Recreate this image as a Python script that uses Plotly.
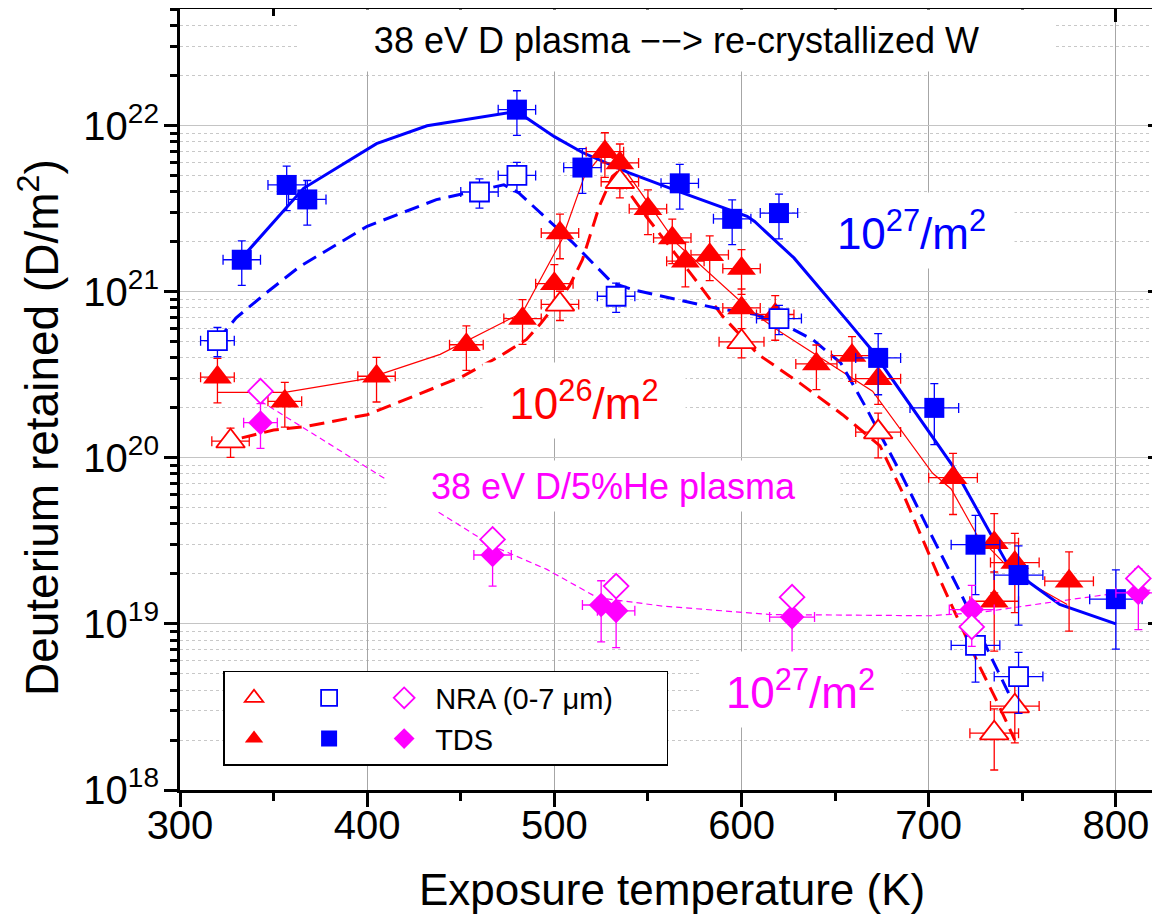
import plotly.graph_objects as go

# ---------------- data ----------------
# 38 eV D plasma, fluence 1e26 D/m^2, TDS (red filled triangles)
tds26_T = [320, 356, 405, 453, 483, 500, 503, 527, 535, 550, 563, 570, 583, 600, 600, 618,
           640, 659, 673, 713, 735, 746, 735, 775]
tds26_D = [3.06e20, 2.19e20, 3.1e20, 4.8e20, 6.9e20, 1.12e21, 2.26e21, 6.98e21, 5.97e21,
           3.16e21, 2.11e21, 1.53e21, 1.67e21, 1.38e21, 8.0e20, 7.3e20, 3.68e20, 4.13e20,
           3.0e20, 7.6e19, 3.08e19, 2.34e19, 1.37e19, 1.81e19]
tds26_pct = [30] * 19 + [40, 50, 50, 50, 50]
tds26_xerr = [9, 9, 10, 9, 10, 10, 10, 10, 10, 10, 10, 10, 10, 10, 10, 10, 11, 11, 12, 13,
              13, 13, 13, 13]

# fluence 1e26, NRA (red open triangles)
nra26_T = [327, 503, 535, 600, 673, 746, 735]
nra26_D = [1.26e20, 8.4e20, 4.6e21, 5.0e20, 1.43e20, 3.2e18, 2.2e18]
nra26_pct = [20, 20, 20, 20, 30, 40, 40]
nra26_xerr = [10, 10, 10, 12, 12, 13, 13]

# fluence 1e27, TDS (blue filled squares)
tds27_T = [333, 357, 368, 480, 515, 567, 595, 620, 673, 703, 725, 748, 800]
tds27_D = [1.56e21, 4.4e21, 3.6e21, 1.25e22, 5.6e21, 4.5e21, 2.75e21, 2.98e21, 4.0e20,
           2.0e20, 3.0e19, 1.97e19, 1.41e19]
tds27_pct = [30, 30, 30, 30, 30, 30, 30, 30, 40, 40, 50, 50, 50]
tds27_xerr = [10, 10, 10, 10, 10, 10, 10, 10, 12, 13, 13, 13, 14]

# fluence 1e27, NRA (blue open squares)
nra27_T = [320, 460, 480, 533, 620, 725, 748]
nra27_D = [5.08e20, 3.99e21, 5.02e21, 9.4e20, 6.9e20, 7.43e18, 4.82e18]
nra27_pct = [20, 20, 20, 20, 20, 40, 40]
nra27_xerr = [9, 10, 10, 10, 12, 13, 13]

# 38 eV D/5%He plasma, 1e27, TDS (magenta filled diamonds)
tdsHe_T = [343, 467, 525, 533, 627, 723, 812]
tdsHe_D = [1.63e20, 2.6e19, 1.30e19, 1.20e19, 1.10e19, 1.22e19, 1.54e19]
tdsHe_pct = [30, 35, 40, 40, 40, 40, 40]
tdsHe_xerr = [9, 10, 10, 10, 12, 12, 12]

# D/5%He, NRA (magenta open diamonds)
nraHe_T = [343, 467, 533, 627, 723, 812]
nraHe_D = [2.52e20, 3.23e19, 1.69e19, 1.45e19, 9.6e18, 1.88e19]

# guide lines
blue_solid_T = [333, 366, 405, 432, 480, 500, 515, 540, 567, 603, 607, 628, 656, 670, 713,
                742, 754, 770, 800]
blue_solid_D = [1.6e21, 4.2e21, 7.8e21, 1.0e22, 1.22e22, 8.6e21, 6.9e21, 5.2e21, 4.0e21,
                2.85e21, 2.65e21, 1.6e21, 6.8e20, 4.4e20, 8.9e19, 2.3e19, 1.77e19, 1.31e19,
                1.0e19]
blue_dash_T = [320, 330, 346, 364, 400, 437, 473, 481, 510, 531, 542, 588, 608, 626, 638,
               653, 667, 685, 699, 717, 734, 743]
blue_dash_D = [5.1e20, 6.97e20, 9.84e20, 1.42e21, 2.48e21, 3.59e21, 4.41e21, 3.94e21,
               1.97e21, 1.13e21, 1.03e21, 7.9e20, 7.3e20, 6.07e20, 5.16e20, 3.73e20, 1.96e20,
               8.1e19, 3.88e19, 1.54e19, 6.1e18, 3.77e18]
red_solid_T = [320, 356, 400, 439, 483, 504, 516, 526, 535, 565, 606, 620, 670, 702, 712,
               726, 747, 774]
red_solid_D = [2.48e20, 2.48e20, 3.0e20, 4.2e20, 7.5e20, 2.06e21, 4.95e21, 6.85e21, 6.0e21,
               1.97e21, 7.5e20, 5.8e20, 2.52e20, 8.1e19, 6.5e19, 3.4e19, 1.94e19, 1.31e19]
red_dash_T = [333, 350, 368, 400, 425, 451, 471, 485, 493, 508, 515, 524, 531, 535, 540, 549,
              574, 590, 609, 631, 654, 674, 686, 697, 706, 727, 736, 746]
red_dash_D = [1.32e20, 1.47e20, 1.55e20, 1.82e20, 2.35e20, 3.1e20, 4.1e20, 5.15e20, 6.5e20,
              1.08e21, 1.56e21, 3.27e21, 4.95e21, 5.4e21, 3.94e21, 2.85e21, 1.24e21, 7.1e20,
              4.19e20, 2.83e20, 1.82e20, 1.18e20, 6.2e19, 3.2e19, 1.85e19, 5.6e18, 3.5e18,
              2.0e18]
mag_line_T = [343, 407, 436, 467, 496, 523, 558, 615, 700, 727, 763, 802, 825]
mag_line_D = [2.2e20, 7.8e19, 4.9e19, 2.95e19, 2.13e19, 1.44e19, 1.28e19, 1.14e19, 1.12e19,
              1.17e19, 1.34e19, 1.54e19, 1.62e19]

x_ticks = [300, 400, 500, 600, 700, 800]
x_minor = [350, 450, 550, 650, 750]
y_ticks = [1e18, 1e19, 1e20, 1e21, 1e22]
y_ticktext = ["10<sup>18</sup>", "10<sup>19</sup>", "10<sup>20</sup>", "10<sup>21</sup>",
              "10<sup>22</sup>"]

RED, BLUE, MAG = "#ff0000", "#0000ff", "#ff00ff"
FONT = "Liberation Sans, Arial, Helvetica, sans-serif"

fig = go.Figure()


def line(T, D, color, width, dash):
    fig.add_trace(go.Scatter(x=T, y=D, mode="lines", showlegend=False, hoverinfo="skip",
                             line=dict(color=color, width=width, dash=dash)))


line(red_solid_T, red_solid_D, RED, 1.2, "solid")
line(red_dash_T, red_dash_D, RED, 3, "15px,8px")
line(blue_solid_T, blue_solid_D, BLUE, 3, "solid")
line(blue_dash_T, blue_dash_D, BLUE, 3, "15px,8px")
line(mag_line_T, mag_line_D, MAG, 1.2, "6px,4px")


def pts(T, D, pct, xerr, color, symbol, size, filled, group, rank, name):
    kw = {}
    if pct is not None:
        kw["error_y"] = dict(type="data", array=[d * p / 100 for d, p in zip(D, pct)],
                             color=color, thickness=1.3, width=4)
        kw["error_x"] = dict(type="data", array=xerr, color=color, thickness=1.3, width=5)
    fig.add_trace(go.Scatter(
        x=T, y=D, mode="markers", name=name, legendgroup=group, legendrank=rank,
        marker=dict(symbol=symbol, size=size,
                    color=color if filled else "white",
                    line=dict(color=color, width=0 if filled else 1.8)),
        **kw))


NB = "\u00a0"
pts(tds26_T, tds26_D, tds26_pct, tds26_xerr, RED, "triangle-up", 25, True, "tri", 2, NB)
pts(nra26_T, nra26_D, nra26_pct, nra26_xerr, RED, "triangle-up", 25, False, "tri", 1, NB)
pts(tds27_T, tds27_D, tds27_pct, tds27_xerr, BLUE, "square", 20, True, "sq", 4, NB)
pts(nra27_T, nra27_D, nra27_pct, nra27_xerr, BLUE, "square", 19, False, "sq", 3, NB)
pts(tdsHe_T, tdsHe_D, tdsHe_pct, tdsHe_xerr, MAG, "diamond", 19, True, "dia", 6, "TDS")
pts(nraHe_T, nraHe_D, None, None, MAG, "diamond", 19, False, "dia", 5,
    "NRA (0-7 \u03bcm)" + NB * 6)

# dummy trace for the mirrored (top/right) axes
fig.add_trace(go.Scatter(x=[None], y=[None], xaxis="x2", yaxis="y2", showlegend=False,
                         hoverinfo="skip"))

XR = [300, 822.5]
YR = [18, 22.703]
minor_y = [m * 10.0 ** k for k in range(18, 23) for m in range(2, 10) if m * 10.0 ** k < 5.1e22]

fig.update_layout(
    width=1152, height=911,
    margin=dict(l=172, r=2, t=1, b=129),
    paper_bgcolor="white", plot_bgcolor="white",
    font=dict(family=FONT, color="black"),
    xaxis=dict(range=XR, autorange=False, tickvals=x_ticks, ticks="outside", ticklen=14,
               tickwidth=2.5, tickcolor="black", showline=True, linewidth=3,
               linecolor="black", showgrid=True, gridcolor="#a6a6a6", gridwidth=1.3,
               zeroline=False, tickfont=dict(size=40), ticklabelstandoff=-16,
               minor=dict(tickvals=x_minor, ticks="outside", ticklen=8,
                          tickwidth=2.5, tickcolor="black", showgrid=False)),
    yaxis=dict(type="log", range=YR, autorange=False, tickvals=y_ticks, ticktext=y_ticktext,
               ticks="outside", ticklen=13, tickwidth=2.5, tickcolor="black",
               showline=True, linewidth=3, linecolor="black", showgrid=True,
               gridcolor="#c4c4c4", gridwidth=1.3, zeroline=False, tickfont=dict(size=40),
               ticklabelstandoff=-3,
               minor=dict(tickvals=minor_y, ticks="outside", ticklen=7, tickwidth=2.5,
                          tickcolor="black", showgrid=True, gridcolor="#c8c8c8",
                          griddash="dot", gridwidth=1)),
    xaxis2=dict(overlaying="x", anchor="y", side="top", range=XR, autorange=False,
                tickvals=x_ticks, ticks="inside", ticklen=13, tickwidth=2.5,
                tickcolor="black", showline=True, linewidth=3, linecolor="black",
                showgrid=False, zeroline=False, showticklabels=False,
                minor=dict(tickvals=x_minor, ticks="inside", ticklen=7,
                           tickwidth=2.5, tickcolor="black", showgrid=False)),
    yaxis2=dict(overlaying="y", anchor="x", side="right", type="log", range=YR,
                autorange=False, tickvals=y_ticks, ticks="inside", ticklen=10, tickwidth=2.5,
                tickcolor="black", showline=True, linewidth=3, linecolor="black",
                showgrid=False, zeroline=False, showticklabels=False,
                minor=dict(tickvals=minor_y, ticks="inside", ticklen=5, tickwidth=2.5,
                           tickcolor="black", showgrid=False)),
    legend=dict(orientation="h", traceorder="grouped", x=0.044, y=0.1524, xanchor="left",
                yanchor="top", bgcolor="white", bordercolor="black", borderwidth=1.5,
                font=dict(size=29), itemwidth=52, tracegroupgap=0),
    showlegend=True,
)


# text labels (white boxes hide the grid, as in the original)
def label(text, xK, ylog, color, size, w, h):
    fig.add_annotation(x=xK, y=ylog, xref="x", yref="y", text=text, showarrow=False,
                       font=dict(size=size, color=color, family=FONT), bgcolor="white",
                       width=w, height=h, xanchor="center", yanchor="middle",
                       valign="middle", borderpad=0)


label("38 eV D plasma \u2212\u2212> re-crystallized W", 565.0, 22.5144, "black", 36, 755, 61)
label("10<sup>27</sup>/m<sup>2</sup>", 691.0, 21.368, BLUE, 44, 205, 75)
label("10<sup>26</sup>/m<sup>2</sup>", 515.8, 20.345, RED, 44, 202, 75)
label("38 eV D/5%He plasma", 531.8, 19.828, MAG, 36, 453, 50)
label("10<sup>27</sup>/m<sup>2</sup>", 631.7, 18.607, MAG, 44, 201, 75)

fig.add_annotation(x=-0.1441, y=0.4635, xref="paper", yref="paper", xanchor="center",
                   yanchor="middle", text="Deuterium retained (D/m<sup>2</sup>)",
                   textangle=-90, showarrow=False, font=dict(size=46, family=FONT))
fig.add_annotation(x=0.5026, y=-0.1268, xref="paper", yref="paper", xanchor="center",
                   yanchor="middle", text="Exposure temperature (K)", showarrow=False,
                   font=dict(size=44, family=FONT))

fig.write_html("out.html")
